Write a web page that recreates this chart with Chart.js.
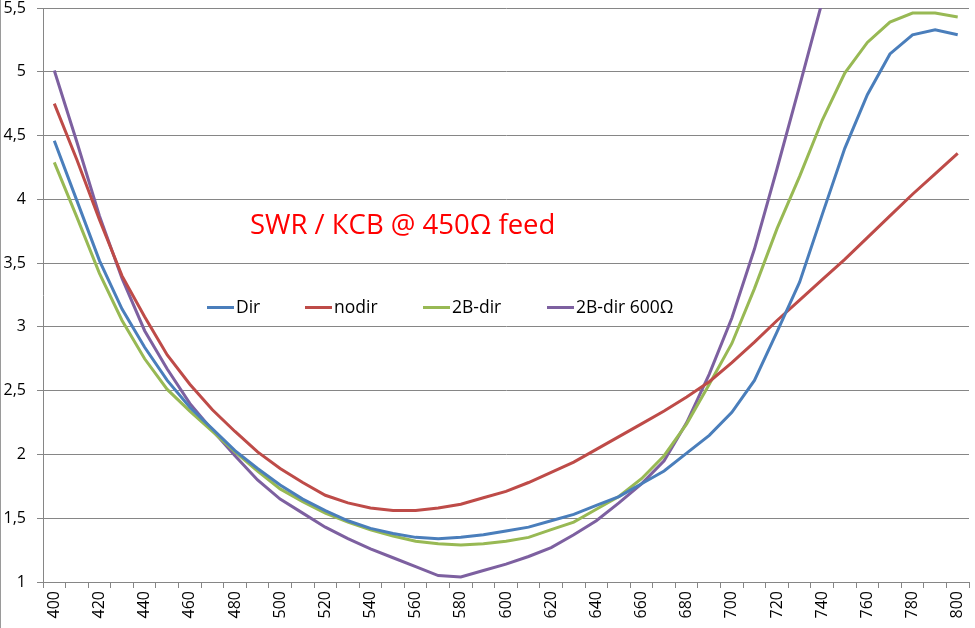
<!DOCTYPE html>
<html>
<head>
<meta charset="utf-8">
<script src="https://cdn.jsdelivr.net/npm/chart.js@4.4.0/dist/chart.umd.min.js"></script>
<style>
  html, body { margin: 0; padding: 0; background: #fff; }
  #wrap { position: relative; width: 975px; height: 628px; overflow: hidden; }
  #frame { position: absolute; left: 0; top: 0; width: 1px; height: 628px; background: #9a9a9a; }
  #title { position: absolute; left: 250px; top: 206px; font-family: "Open Sans", sans-serif; font-size: 27.5px; line-height: 36px; color: #ff0000; white-space: nowrap; }
  .leg { position: absolute; top: 293px; font-family: "Open Sans", sans-serif; font-size: 17.5px; line-height: 26px; color: #000; white-space: nowrap; }
  .leg i { display: inline-block; width: 27px; height: 3px; vertical-align: middle; margin-right: 2px; position: relative; top: -1px; }
</style>
</head>
<body>
<div id="wrap">
  <canvas id="c" width="975" height="628"></canvas>
  <div id="frame"></div>
  <div id="title">SWR / КСВ @ 450Ω feed</div>
  <div id="legend"></div>
</div>
<script>
const freqs = [400,410,420,430,440,450,460,470,480,490,500,510,520,530,540,550,560,570,580,590,600,610,620,630,640,650,660,670,680,690,700,710,720,730,740,750,760,770,780,790,800];

const seriesNames = ["Dir", "nodir", "2B-dir", "2B-dir 600Ω"];
const seriesColors = ["#4A7EBB", "#BE4B48", "#98B954", "#7D60A0"];

const dirValues = [4.46,3.99,3.52,3.14,2.84,2.58,2.37,2.20,2.03,1.89,1.76,1.65,1.56,1.48,1.42,1.38,1.35,1.34,1.35,1.37,1.40,1.43,1.48,1.53,1.60,1.67,1.77,1.87,2.01,2.15,2.33,2.58,2.96,3.35,3.88,4.40,4.82,5.14,5.29,5.33,5.29];

const nodirValues = [4.75,4.31,3.84,3.40,3.08,2.78,2.55,2.35,2.18,2.02,1.89,1.78,1.68,1.62,1.58,1.56,1.56,1.58,1.61,1.66,1.71,1.78,1.86,1.94,2.04,2.14,2.24,2.34,2.45,2.57,2.72,2.88,3.05,3.21,3.37,3.53,3.70,3.87,4.04,4.20,4.36];

const dir2bValues = [4.29,3.86,3.42,3.05,2.75,2.51,2.34,2.18,2.02,1.87,1.73,1.63,1.54,1.47,1.41,1.36,1.32,1.30,1.29,1.30,1.32,1.35,1.41,1.47,1.57,1.67,1.81,1.99,2.24,2.55,2.87,3.30,3.77,4.18,4.62,4.99,5.23,5.39,5.46,5.46,5.43];

const dir2b600Values = [5.01,4.45,3.87,3.38,2.97,2.67,2.40,2.19,1.99,1.80,1.65,1.54,1.43,1.34,1.26,1.19,1.12,1.05,1.04,1.09,1.14,1.20,1.27,1.37,1.48,1.62,1.77,1.95,2.25,2.63,3.07,3.61,4.24,4.89,5.55];

const yMin = 1, yMax = 5.5, yStep = 0.5;

// HTML legend
const legendPos = [207, 305, 423, 547];
const legendEl = document.getElementById('legend');
seriesNames.forEach((n, i) => {
  const d = document.createElement('div');
  d.className = 'leg';
  d.style.left = legendPos[i] + 'px';
  const sw = document.createElement('i');
  sw.style.background = seriesColors[i];
  d.appendChild(sw);
  d.appendChild(document.createTextNode(n));
  legendEl.appendChild(d);
});

const allValues = [dirValues, nodirValues, dir2bValues, dir2b600Values];
const gridColor = '#868686';
const fontFamily = '"Open Sans", sans-serif';

new Chart(document.getElementById('c'), {
  type: 'line',
  data: {
    labels: freqs.map(String),
    datasets: allValues.map((vals, i) => ({
      label: seriesNames[i],
      data: vals,
      borderColor: seriesColors[i],
      backgroundColor: seriesColors[i],
      borderWidth: 3,
      pointRadius: 0,
      tension: 0,
      fill: false,
      clip: 0
    }))
  },
  options: {
    responsive: false,
    devicePixelRatio: 1,
    animation: false,
    layout: { padding: { top: 8, right: 6, left: 0, bottom: 0 } },
    plugins: { legend: { display: false }, tooltip: { enabled: false } },
    scales: {
      x: {
        type: 'category',
        offset: true,
        grid: { display: true, offset: true, drawOnChartArea: false, drawTicks: true, tickLength: 6, color: gridColor },
        border: { display: true, color: gridColor, width: 1 },
        ticks: {
          autoSkip: false,
          maxRotation: 90,
          minRotation: 90,
          padding: 3,
          color: '#000',
          font: { family: fontFamily, size: 16 },
          callback: function(val, idx) { return idx % 2 === 0 ? String(freqs[idx]) : ''; }
        },
        afterFit: function(s) { s.height = 46; s.paddingLeft = 0; s.paddingRight = 0; s.paddingTop = 0; s.paddingBottom = 0; }
      },
      y: {
        type: 'linear',
        min: yMin,
        max: yMax,
        grid: { color: gridColor, tickLength: 6 },
        border: { display: true, color: gridColor, width: 1 },
        ticks: {
          stepSize: yStep,
          padding: 11,
          color: '#000',
          font: { family: fontFamily, size: 16 },
          callback: function(v) { return String(v).replace('.', ','); }
        },
        afterFit: function(s) { s.width = 43; s.paddingTop = 0; s.paddingBottom = 0; s.paddingLeft = 0; s.paddingRight = 0; }
      }
    }
  }
});
</script>
</body>
</html>
